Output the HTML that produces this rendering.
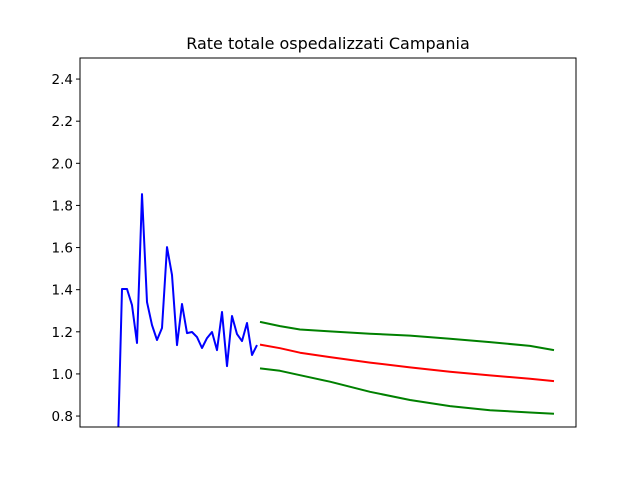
<!DOCTYPE html>
<html><head><meta charset="utf-8"><style>
body{margin:0;background:#fff;}
svg text{font-family:"DejaVu Sans","Liberation Sans",sans-serif;}
</style></head><body>
<svg id="c" width="640" height="480" xmlns="http://www.w3.org/2000/svg">
<text x="328" y="49" text-anchor="middle" font-size="16">Rate totale ospedalizzati Campania</text>
<g id="ticks"></g>
<g id="series"></g>
<rect x="80" y="58" width="496" height="369" fill="none" stroke="#000" stroke-width="1"/>
</svg>
<script>
const yTicks=[0.8,1.0,1.2,1.4,1.6,1.8,2.0,2.2,2.4];
const yTickLabels=["0.8","1.0","1.2","1.4","1.6","1.8","2.0","2.2","2.4"];
const observed=[0.5,1.403,1.403,1.327,1.147,1.854,1.341,1.232,1.161,1.218,1.602,1.470,1.137,1.332,1.194,1.199,1.175,1.123,1.170,1.199,1.113,1.294,1.037,1.275,1.189,1.156,1.242,1.090,1.137];
const forecastT=[28.6,32.6,36.6,42.6,50.6,58.6,66.6,74.6,82.6,87.4];
const forecastMid=[1.139,1.122,1.101,1.080,1.054,1.031,1.010,0.993,0.977,0.966];
const forecastUpper=[1.247,1.227,1.211,1.202,1.191,1.182,1.167,1.151,1.133,1.113];
const forecastLower=[1.026,1.015,0.994,0.963,0.915,0.876,0.847,0.828,0.817,0.811];
const NS="http://www.w3.org/2000/svg";
const tmin=-7.4,scale=5.0,ymin=0.748,ymax=2.5;
function X(t){return 80+(t-tmin)*scale;}
function Y(v){return 427-(v-ymin)/(ymax-ymin)*369;}
const tg=document.getElementById('ticks');
yTicks.forEach((v,i)=>{
 const l=document.createElementNS(NS,'line');
 l.setAttribute('x1',76);l.setAttribute('x2',80);l.setAttribute('y1',Y(v));l.setAttribute('y2',Y(v));l.setAttribute('stroke','#000');
 
 
 tg.appendChild(l);
 const t=document.createElementNS(NS,'text');
 t.setAttribute('x',73);t.setAttribute('y',Y(v)+5);t.setAttribute('text-anchor','end');t.setAttribute('font-size','13.5');
 t.textContent=yTickLabels[i];
 
 
 tg.appendChild(t);
});
const sg=document.getElementById('series');
const cp=document.createElementNS(NS,'clipPath');cp.setAttribute('id','clip');
const cr=document.createElementNS(NS,'rect');cr.setAttribute('x',80);cr.setAttribute('y',58);cr.setAttribute('width',496);cr.setAttribute('height',369);
cp.appendChild(cr);sg.appendChild(cp);
function line(ts,vs,color,name){
 const p=document.createElementNS(NS,'polyline');
 p.setAttribute('points',vs.map((v,i)=>X(ts[i]).toFixed(1)+','+Y(v).toFixed(1)).join(' '));
 p.setAttribute('fill','none');p.setAttribute('stroke',color);p.setAttribute('stroke-width','2');
 p.setAttribute('stroke-linejoin','round');p.setAttribute('clip-path','url(#clip)');
 
 
 sg.appendChild(p);
}
line(observed.map((_,i)=>i),observed,'#0000ff','observed-line');
line(forecastT,forecastUpper,'#008000','forecast-upper-line');
line(forecastT,forecastMid,'#ff0000','forecast-line');
line(forecastT,forecastLower,'#008000','forecast-lower-line');
</script>
</body></html>
